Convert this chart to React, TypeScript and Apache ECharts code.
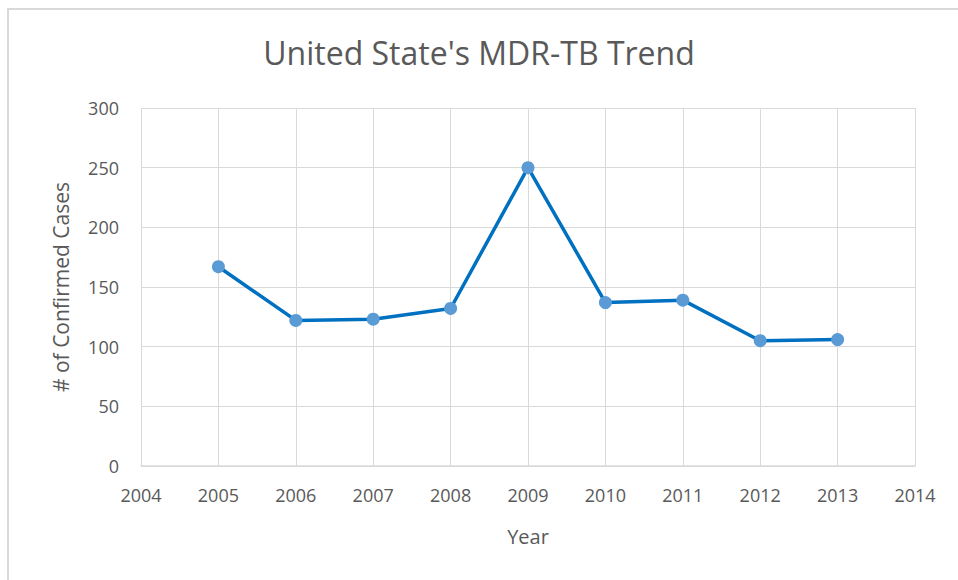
import React, { useEffect, useRef } from "react";
import * as echarts from "echarts";

const years = [2005, 2006, 2007, 2008, 2009, 2010, 2011, 2012, 2013];
const cases = [167, 122, 123, 132, 250, 137, 139, 105, 106];
const xMin = 2004;
const xMax = 2014;
const yMax = 300;
const yStep = 50;

const FONT = "'Open Sans', sans-serif";
const TEXT = "#595959";
const GRID = "#D9D9D9";

export default function App() {
  const ref = useRef<HTMLDivElement>(null);
  useEffect(() => {
    if (!ref.current) return;
    const chart = echarts.init(ref.current, null, { renderer: "svg" });
    chart.setOption({
      animation: false,
      backgroundColor: "#ffffff",
      title: {
        text: "United State's MDR-TB Trend",
        left: "center",
        top: 31,
        textStyle: { fontFamily: FONT, fontSize: 32, fontWeight: "normal", color: TEXT },
      },
      graphic: [
        { type: "line", shape: { x1: 7, y1: 9, x2: 958, y2: 9 }, style: { stroke: GRID, lineWidth: 2 } },
        { type: "line", shape: { x1: 8, y1: 9, x2: 8, y2: 580 }, style: { stroke: GRID, lineWidth: 2 } },
      ],
      grid: { left: 141, right: 43, top: 108, bottom: 114 },
      xAxis: {
        type: "value",
        min: xMin,
        max: xMax,
        interval: 1,
        name: "Year",
        nameLocation: "middle",
        nameGap: 60,
        nameTextStyle: { fontFamily: FONT, fontSize: 20, color: TEXT },
        axisLine: { show: true, lineStyle: { color: GRID, width: 1.5 } },
        axisTick: { show: false },
        axisLabel: {
          fontFamily: FONT,
          fontSize: 18,
          color: TEXT,
          margin: 20,
          formatter: (v: number) => String(v),
        },
        splitLine: { show: true, lineStyle: { color: GRID, width: 1 } },
      },
      yAxis: {
        type: "value",
        min: 0,
        max: yMax,
        interval: yStep,
        name: "# of Confirmed Cases",
        nameLocation: "middle",
        nameRotate: 90,
        nameGap: 70,
        nameTextStyle: { fontFamily: FONT, fontSize: 21, color: TEXT },
        axisLine: { show: false },
        axisTick: { show: false },
        axisLabel: { fontFamily: FONT, fontSize: 18, color: TEXT, margin: 22 },
        splitLine: { show: true, lineStyle: { color: GRID, width: 1 } },
      },
      series: [
        {
          type: "line",
          data: years.map((y, i) => [y, cases[i]]),
          symbol: "circle",
          symbolSize: 13,
          lineStyle: { color: "#0070C0", width: 3.5 },
          itemStyle: { color: "#5B9BD5" },
        },
      ],
    });
    return () => chart.dispose();
  }, []);
  return (
    <div
      ref={ref}
      style={{ position: "fixed", left: 0, top: 0, width: 958, height: 580 }}
    />
  );
}
